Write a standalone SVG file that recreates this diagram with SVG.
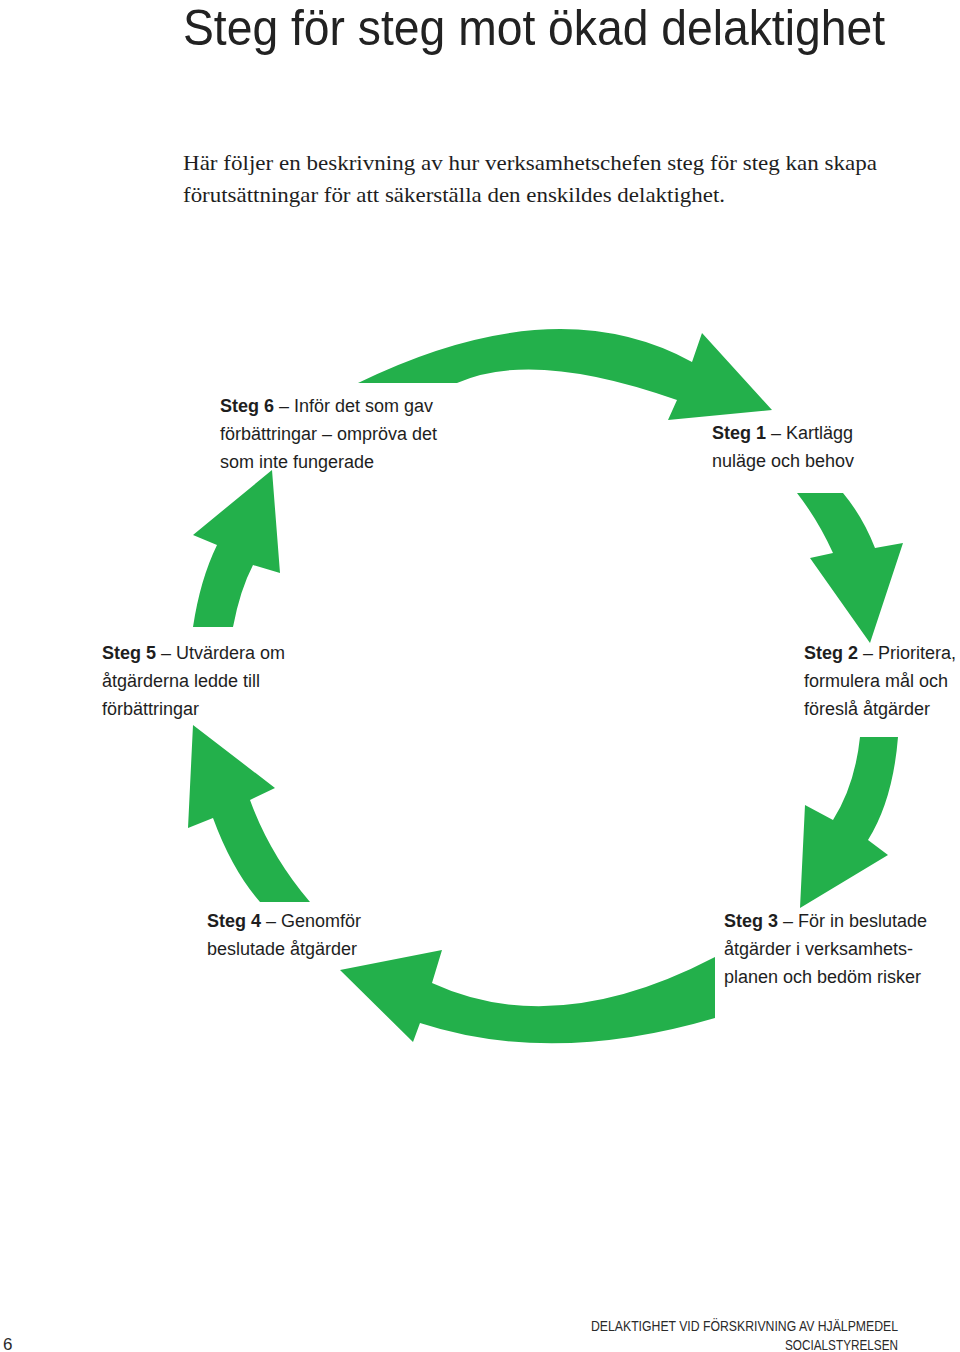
<svg xmlns="http://www.w3.org/2000/svg" width="960" height="1352" viewBox="0 0 960 1352">
<style>
.title{font-family:"Liberation Sans",Arial,sans-serif;font-size:50px;fill:#222222}
.intro{font-family:"Liberation Serif","Times New Roman",serif;font-size:22px;fill:#1e1e1e}
.lbl{font-family:"Liberation Sans",Arial,sans-serif;font-size:18px;fill:#1e1e1e}
.lbl .b{font-weight:bold}
.foot{font-family:"Liberation Sans",Arial,sans-serif;font-size:14px;fill:#2a2a2a}
.arr{fill:#23b04b}
</style>
<rect width="960" height="1352" fill="#ffffff"/>
<text class="title" x="183" y="45" textLength="702" lengthAdjust="spacingAndGlyphs">Steg för steg mot ökad delaktighet</text>
<text class="intro" x="183" y="170" textLength="694" lengthAdjust="spacingAndGlyphs">Här följer en beskrivning av hur verksamhetschefen steg för steg kan skapa</text>
<text class="intro" x="183" y="202" textLength="542" lengthAdjust="spacingAndGlyphs">förutsättningar för att säkerställa den enskildes delaktighet.</text>

<g id="connectors">
<path id="arrow-6-1" class="arr" d="M358 383 Q555 287 692 362 L702 333 L772 410 L668 420 L677 400 Q533 349 457 383 Z"/>
<path id="arrow-1-2" class="arr" d="M797 493 L843 493 Q863 517 875 548 L903 543 L870 643 L810 558 L833 553 Q818 520 797 493 Z"/>
<path id="arrow-2-3" class="arr" d="M860 737 L898 737 Q893 800 868 840 L888 855 L800 908 L805 805 L833 820 Q855 785 860 737 Z"/>
<path id="arrow-3-4" class="arr" d="M715 957 L715 1018 Q552 1066 420 1023 L413 1042 L340 970 L442 950 L432 983 Q556 1040 715 957 Z"/>
<path id="arrow-4-5" class="arr" d="M260 902 L310 902 Q270 855 250 800 L275 788 L193 725 L188 828 L213 818 Q232 870 260 902 Z"/>
<path id="arrow-5-6" class="arr" d="M193 627 L233 627 Q240 590 253 565 L280 573 L272 470 L193 535 L217 545 Q200 580 193 627 Z"/>
</g>

<g id="step6">
<text class="lbl" x="220" y="412"><tspan class="b">Steg 6</tspan> – Inför det som gav</text>
<text class="lbl" x="220" y="440">förbättringar – ompröva det</text>
<text class="lbl" x="220" y="468">som inte fungerade</text>
</g>
<g id="step1">
<text class="lbl" x="712" y="439"><tspan class="b">Steg 1</tspan> – Kartlägg</text>
<text class="lbl" x="712" y="467">nuläge och behov</text>
</g>
<g id="step5">
<text class="lbl" x="102" y="659"><tspan class="b">Steg 5</tspan> – Utvärdera om</text>
<text class="lbl" x="102" y="687">åtgärderna ledde till</text>
<text class="lbl" x="102" y="715">förbättringar</text>
</g>
<g id="step2">
<text class="lbl" x="804" y="659"><tspan class="b">Steg 2</tspan> – Prioritera,</text>
<text class="lbl" x="804" y="687">formulera mål och</text>
<text class="lbl" x="804" y="715">föreslå åtgärder</text>
</g>
<g id="step4">
<text class="lbl" x="207" y="927"><tspan class="b">Steg 4</tspan> – Genomför</text>
<text class="lbl" x="207" y="955">beslutade åtgärder</text>
</g>
<g id="step3">
<text class="lbl" x="724" y="927"><tspan class="b">Steg 3</tspan> – För in beslutade</text>
<text class="lbl" x="724" y="955">åtgärder i verksamhets-</text>
<text class="lbl" x="724" y="983">planen och bedöm risker</text>
</g>

<g id="footer">
<text class="foot" x="3" y="1350" style="font-size:17px">6</text>
<text class="foot" x="591" y="1331" textLength="307" lengthAdjust="spacingAndGlyphs">DELAKTIGHET VID FÖRSKRIVNING AV HJÄLPMEDEL</text>
<text class="foot" x="785" y="1350" textLength="113" lengthAdjust="spacingAndGlyphs">SOCIALSTYRELSEN</text>
</g>
</svg>
